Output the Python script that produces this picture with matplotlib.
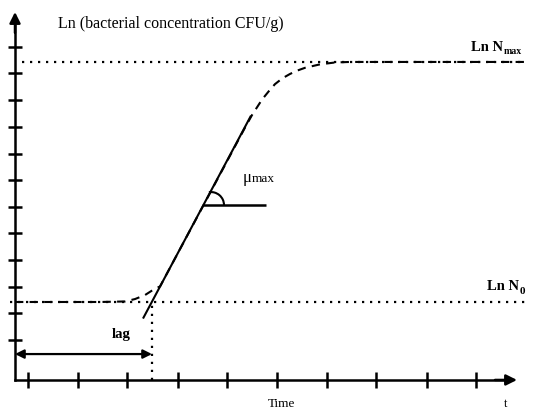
import numpy as np
import matplotlib
matplotlib.use('Agg')
import matplotlib.pyplot as plt
from matplotlib.patches import Arc

plt.rcParams['font.family'] = ['Liberation Serif', 'DejaVu Serif']

# axis ticks (time units / ln units)
x_ticks = [0.26, 1.26, 2.24, 3.26, 4.24, 5.24, 6.24, 7.22, 8.24, 9.22]
y_ticks = [1.5, 2.5, 3.48, 4.49, 5.5, 6.48, 7.49, 8.46, 9.48, 10.49, 11.5, 12.47]

# levels
ln_n0 = 2.92
ln_nmax = 11.91
lag_time = 2.74

# growth curve
curve_t = [0.0, 1.7, 2.2, 2.4, 2.6, 2.8, 2.9, 3.7, 4.6, 4.74, 4.94, 5.07,
           5.2, 5.35, 5.5, 5.65, 5.8, 6.1, 6.4, 6.7, 10.2]
curve_y = [2.92, 2.92, 2.94, 3.03, 3.18, 3.42, 3.5, 6.3, 9.45, 9.92, 10.5, 10.8,
           11.08, 11.3, 11.46, 11.59, 11.69, 11.82, 11.89, 11.91, 11.91]

# tangent (mu_max) line
tan_t = [2.56, 4.72]
tan_y = [2.30, 9.9]
mu_line_t = [3.77, 5.02]
mu_line_y = [6.55, 6.55]

fig = plt.figure(figsize=(5.34, 4.12), dpi=100)
ax = fig.add_axes([0, 0, 1, 1])
ax.set_xlim(-0.3, 10.38)
ax.set_ylim(-1.2, 14.23)

# axes as arrows
for s in ['top', 'right']:
    ax.spines[s].set_visible(False)
ax.spines['left'].set_position(('data', 0))
ax.spines['bottom'].set_position(('data', 0))
ax.spines['left'].set_bounds(0, 13.3)
ax.spines['bottom'].set_bounds(0, 9.8)
ax.spines['left'].set_linewidth(1.8)
ax.spines['bottom'].set_linewidth(1.8)
ax.set_xticks(x_ticks)
ax.set_yticks(y_ticks)
ax.set_xticklabels([])
ax.set_yticklabels([])
ax.tick_params(axis='x', direction='inout', length=11.5, width=1.8)
ax.tick_params(axis='y', direction='inout', length=10, width=1.8)

ax.annotate('', xy=(0, 13.78), xytext=(0, 13.0),
            arrowprops=dict(arrowstyle='-|>', lw=1.8, color='k',
                            mutation_scale=16, shrinkA=0, shrinkB=0))
ax.annotate('', xy=(10.04, 0), xytext=(9.6, 0),
            arrowprops=dict(arrowstyle='-|>', lw=1.8, color='k',
                            mutation_scale=16, shrinkA=0, shrinkB=0))

# reference levels
ax.plot([-0.1, 10.2], [ln_n0, ln_n0], color='k', lw=1.6, ls=(0, (1, 2.6)))
ax.plot([0.14, 10.2], [ln_nmax, ln_nmax], color='k', lw=1.6, ls=(0, (1, 2.6)))
ax.plot([lag_time, lag_time], [0, ln_n0], color='k', lw=1.6, ls=(0, (1, 2.6)))

# growth curve
ax.plot(curve_t, curve_y, color='k', lw=1.5, ls=(0, (4, 3)))

# tangent and angle
ax.plot(tan_t, tan_y, color='k', lw=1.5, solid_capstyle='butt')
ax.plot(mu_line_t, mu_line_y, color='k', lw=1.8, solid_capstyle='butt')
ax.add_patch(Arc((3.92, 6.55), 0.52, 0.974, theta1=0, theta2=95, color='k', lw=1.5))

# lag arrow
ax.annotate('', xy=(lag_time, 0.97), xytext=(0, 0.97),
            arrowprops=dict(arrowstyle='<|-|>', lw=1.6, color='k',
                            mutation_scale=13, shrinkA=0, shrinkB=0))

# texts
ax.text(0.86, 13.18, 'Ln (bacterial concentration CFU/g)', fontsize=11.5,
        ha='left', va='baseline')
ax.text(9.76, 12.32, 'Ln N', fontsize=10.5, fontweight='bold', ha='right', va='baseline')
ax.text(9.78, 12.2, 'max', fontsize=7, fontweight='bold', ha='left', va='baseline')
ax.text(10.08, 3.37, 'Ln N', fontsize=10.5, fontweight='bold', ha='right', va='baseline')
ax.text(10.09, 3.22, '0', fontsize=8, fontweight='bold', ha='left', va='baseline')
ax.text(2.12, 1.57, 'lag', fontsize=10.5, fontweight='bold', ha='center', va='baseline')
ax.text(4.56, 7.42, 'μ', fontsize=12, ha='left', va='baseline')
ax.text(4.73, 7.42, 'max', fontsize=9.5, ha='left', va='baseline')
ax.text(5.32, -1.0, 'Time', fontsize=9.5, ha='center', va='baseline')
ax.text(9.82, -1.0, 't', fontsize=9, ha='center', va='baseline')

fig.savefig('out.png', dpi=100)
